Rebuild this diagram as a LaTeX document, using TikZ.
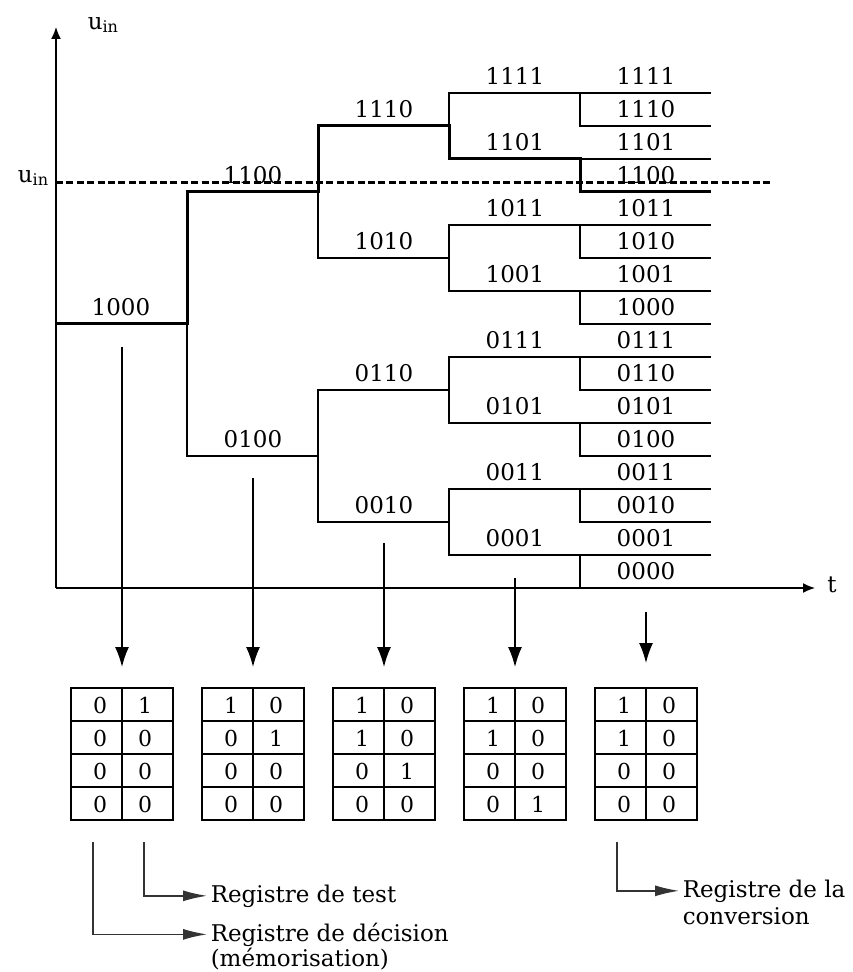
\documentclass[tikz,border=0pt]{standalone}
\usepackage{fontspec}
\setmainfont{DejaVu Serif}
\usetikzlibrary{arrows.meta}
\tikzset{
  code/.style={font=\fontsize{11.5}{13}\selectfont, inner sep=0pt},
  bit/.style={font=\fontsize{11}{12}\selectfont, inner sep=0pt},
  legend/.style={font=\fontsize{11.5}{13}\selectfont, inner sep=1.5pt},
  trace/.style={line width=1.5pt},
  bigtip/.style={-{Latex[length=10pt,width=7pt]}},
  longtip/.style={-{Latex[length=12pt,width=5.5pt]}, black!80},
}
\begin{document}
\begin{tikzpicture}[x=0.5pt,y=-0.5pt,>={Latex[length=6pt,width=5pt]},line width=0.75pt]
\useasboundingbox (0,0) rectangle (852,972);
%axes
\draw[->] (56,588) -- (56,27);
\node[code,anchor=west] (uin) at (87,25) {u\textsubscript{in}};
\draw[->] (56,588) -- (815,588);
\node[code] (t) at (832,585) {t};
%input level
\draw[dash pattern=on 3.5pt off 1.7pt,line width=1.5pt] (56,183) -- (770,183);
\node[code,anchor=east] (uinlevel) at (50,178) {u\textsubscript{in}};

%tree of codes
\draw (187,324) -- (187,456) -- (318,456);
\foreach \v in {12,4}
  \draw (449,{588-33*(\v+2)}) -- (318,{588-33*(\v+2)}) -- (318,{588-33*(\v-2)}) -- (449,{588-33*(\v-2)});
\foreach \v in {14,10,6,2}
  \draw (580,{588-33*(\v+1)}) -- (449,{588-33*(\v+1)}) -- (449,{588-33*(\v-1)}) -- (580,{588-33*(\v-1)});
\foreach \v in {15,13,...,1}
  \draw (711,{588-33*\v}) -- (580,{588-33*\v}) -- (580,{588-33*(\v-1)}) -- (711,{588-33*(\v-1)});

%conversion path
\draw[trace] (56,324) -- (187,324) -- (187,192) -- (318,192) -- (318,126) -- (449,126)
  -- (449,159) -- (580,159) -- (580,192) -- (711,192);

%codes
\foreach \x/\v/\b in {121/8/1000,253/12/1100,253/4/0100}
  \node[code] (c-\b) at (\x,{571-33*\v}) {\b};
\foreach \v/\b in {14/1110,10/1010,6/0110,2/0010}
  \node[code] (s2-\b) at (384,{571-33*\v}) {\b};
\foreach \v/\b in {15/1111,13/1101,11/1011,9/1001,7/0111,5/0101,3/0011,1/0001}
  \node[code] (s3-\b) at (515,{571-33*\v}) {\b};
\foreach \v/\b in {15/1111,14/1110,13/1101,12/1100,11/1011,10/1010,9/1001,8/1000,
                   7/0111,6/0110,5/0101,4/0100,3/0011,2/0010,1/0001,0/0000}
  \node[code] (s4-\b) at (646,{571-33*\v}) {\b};

%registers
\foreach \k/\dec/\tst in {0/{0,0,0,0}/{1,0,0,0},1/{1,0,0,0}/{0,1,0,0},2/{1,1,0,0}/{0,0,1,0},
                          3/{1,1,0,0}/{0,0,0,1},4/{1,1,0,0}/{0,0,0,0}}
{
  \begin{scope}[shift={(131*\k,0)}]
    \draw (71,688) rectangle (173,820);
    \draw (122,688) -- (122,820);
    \foreach \r in {1,2,3}
      \draw (71,{688+33*\r}) -- (173,{688+33*\r});
    \foreach \d [count=\r from 0] in \dec
      \node[bit] (dec-\k-\r) at (100,{705+33*\r}) {\d};
    \foreach \d [count=\r from 0] in \tst
      \node[bit] (tst-\k-\r) at (145,{705+33*\r}) {\d};
  \end{scope}
}

%sampling arrows
\foreach \k/\s/\e in {0/347/667,1/478/667,2/543/667,3/578/667,4/612/663}
{
  \coordinate (from-\k) at ({122+131*\k},\s);
  \coordinate (to-\k) at ({122+131*\k},\e);
  \draw[bigtip] (from-\k) -- (to-\k);
}

%legend
\node[legend,anchor=base west] (ltest) at (207,902) {Registre de test};
\node[legend,anchor=base west] (ldec) at (207,941) {Registre de décision};
\node[legend,anchor=base west] (ldec2) at (207,966) {(mémorisation)};
\node[legend,anchor=base west] (lconv) at (679,897) {Registre de la};
\node[legend,anchor=base west] (lconv2) at (679,924) {conversion};
\coordinate (ktest) at (144,842);
\coordinate (kdec) at (93,842);
\coordinate (kconv) at (617,842);
\draw[longtip] (ktest) |- (ltest);
\draw[longtip] (kdec) |- (ldec);
\draw[longtip] (kconv) |- (lconv);
\end{tikzpicture}
\end{document}
